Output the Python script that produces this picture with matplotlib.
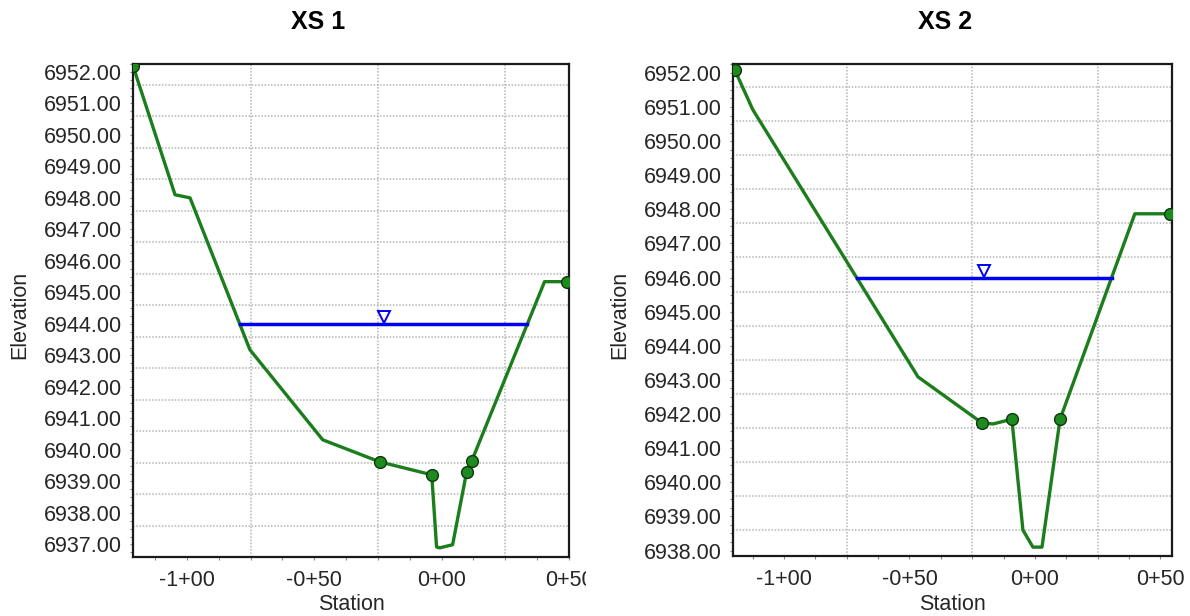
import numpy as np
import matplotlib
matplotlib.use("Agg")
import matplotlib.pyplot as plt
from matplotlib import transforms as mtransforms
from matplotlib.ticker import FixedLocator, MultipleLocator

plt.rcParams['font.family'] = ['Liberation Sans', 'DejaVu Sans']

# ---------------- data ----------------
titles = ["XS 1", "XS 2"]

xs1_station = [-121.2, -104.7, -98.8, -75.3, -46.7, -24.3, -3.9, -2.0, -0.8, 4.3, 9.8, 11.8, 40.4, 49.4]
xs1_elev = [6952.19, 6948.10, 6948.00, 6943.18, 6940.32, 6939.62, 6939.21, 6936.92,
            6936.89, 6936.99, 6939.30, 6939.65, 6945.34, 6945.34]
xs1_marker_idx = [0, 5, 6, 10, 11, 13]
xs1_wsel = 6944.00

xs2_station = [-119.5, -112.4, -46.6, -21.1, -16.7, -9.2, -4.8, -0.8, 2.8, 10.0, 39.8, 53.8]
xs2_elev = [6952.07, 6950.92, 6943.09, 6941.74, 6941.71, 6941.85, 6938.60, 6938.10,
            6938.10, 6941.85, 6947.87, 6947.87]
xs2_marker_idx = [0, 3, 5, 9, 11]
xs2_wsel = 6946.00

xtick_values = [-100, -50, 0, 50]
xtick_labels = ["-1+00", "-0+50", "0+00", "0+50"]
xs1_yticks = list(range(6937, 6953))
xs2_yticks = list(range(6938, 6953))

# ---------------- helpers ----------------
W, H = 1190, 616


def px_axes(l, t, r, b):
    return [l / W, 1 - b / H, (r - l) / W, (b - t) / H]


def ws_extent(sta, elev, ws):
    sta = np.asarray(sta, float)
    d = np.asarray(elev, float) - ws
    xs = []
    for i in range(len(d) - 1):
        if d[i] == 0:
            xs.append(sta[i])
        elif d[i] * d[i + 1] < 0:
            t = d[i] / (d[i] - d[i + 1])
            xs.append(sta[i] + t * (sta[i + 1] - sta[i]))
    return xs[0], xs[-1]


fig = plt.figure(figsize=(11.9, 6.16), dpi=100)
ax1 = fig.add_axes(px_axes(133, 64, 569, 557))
ax2 = fig.add_axes(px_axes(733, 64, 1172, 556))

grid_kw = dict(color='#b4b4b4', lw=1.1, ls=(0, (1, 1.1)), zorder=0)
text_col = '#262626'


def draw(ax, sta, elev, marks, ws, xlim, ylim, yticks):
    sta = np.asarray(sta, float)
    elev = np.asarray(elev, float)
    ax.set_xlim(*xlim)
    ax.set_ylim(*ylim)
    # grid (drawn midway between labelled stations, slightly below labelled elevations)
    for gx in np.arange(-75, xlim[1], 50):
        ax.axvline(gx, **grid_kw)
    for gy in np.array(yticks) - 0.41:
        if ylim[0] + 0.05 < gy < ylim[1]:
            ax.axhline(gy, **grid_kw)
    ax.plot(sta, elev, color='#1b7d1b', lw=2.4, zorder=3, solid_joinstyle='round')
    ax.plot(sta[marks], elev[marks], 'o', ms=8.5, mfc='#1f8a1f', mec='#0c360c',
            mew=1.0, zorder=4)
    l, r = ws_extent(sta, elev, ws)
    ax.plot([l, r], [ws, ws], color='#0000ee', lw=2.5, zorder=3)
    tri_tr = mtransforms.offset_copy(ax.transData, fig=fig, y=4.6, units='points')
    ax.plot([(l + r) / 2], [ws], marker='v', ms=9, mfc='white', mec='#0000ee',
            mew=1.4, transform=tri_tr, zorder=5, ls='none')

    ax.xaxis.set_major_locator(FixedLocator(xtick_values))
    ax.set_xticklabels(xtick_labels)
    ax.xaxis.set_minor_locator(MultipleLocator(12.5))
    ax.yaxis.set_major_locator(FixedLocator(yticks))
    ax.set_yticklabels([f"{v:.2f}" for v in yticks])
    ax.yaxis.set_minor_locator(MultipleLocator(0.25))
    ax.tick_params(axis='both', which='both', direction='out', length=2.5,
                   width=0.8, color='#888888', labelsize=15.5, labelcolor=text_col)
    ax.tick_params(axis='x', which='both', pad=7)
    ax.tick_params(axis='y', which='both', pad=5.5)
    for s in ax.spines.values():
        s.set_linewidth(1.6)
        s.set_color('#1a1a1a')
    ax.set_xlabel("Station", fontsize=15.5, color=text_col)
    ax.set_ylabel("Elevation", fontsize=15.5, color=text_col)
    ax.xaxis.label.set_va('center')
    ax.yaxis.label.set_va('center')


draw(ax1, xs1_station, xs1_elev, xs1_marker_idx, xs1_wsel, (-121.2, 50.0), (6936.60, 6952.25), xs1_yticks)
draw(ax2, xs2_station, xs2_elev, xs2_marker_idx, xs2_wsel, (-120.3, 54.6), (6937.84, 6952.26), xs2_yticks)

ax1.xaxis.set_label_coords(0.5, -48 / 493)
ax2.xaxis.set_label_coords(0.5, -49 / 492)
ax1.yaxis.set_label_coords(-113 / 436, (557 - 315) / 493)
ax2.yaxis.set_label_coords(-113 / 439, (556 - 315) / 492)

# the right-most station label of the first panel is cut at the panel edge
clip = mtransforms.TransformedBbox(mtransforms.Bbox([[0, 0], [586 / W, 1]]), fig.transFigure)
for lab in ax1.get_xticklabels():
    lab.set_clip_box(clip)
    lab.set_clip_on(True)

fig.text(318 / W, 1 - 22 / H, titles[0], ha='center', va='center', fontsize=18,
         fontweight='bold', color='black')
fig.text(945 / W, 1 - 22 / H, titles[1], ha='center', va='center', fontsize=18,
         fontweight='bold', color='black')

fig.savefig("out.png", dpi=100)
